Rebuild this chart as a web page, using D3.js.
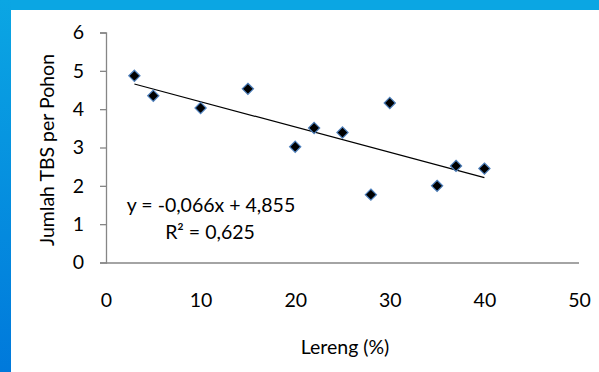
<!DOCTYPE html>
<html>
<head>
<meta charset="utf-8">
<script src="https://cdn.jsdelivr.net/npm/d3@7"></script>
<style>
  body { margin: 0; background: #fff; }
  svg { display: block; font-family: Lato, "Open Sans", sans-serif; }
</style>
</head>
<body>
<script>
// slope (%) and bunches per tree
var lereng = [3, 5, 10, 15, 20, 22, 25, 28, 30, 35, 37, 40];
var jumlahTBS = [4.87, 4.35, 4.03, 4.53, 3.02, 3.51, 3.39, 1.77, 4.16, 2.0, 2.52, 2.45];

var xTicks = [0, 10, 20, 30, 40, 50];
var yTicks = [0, 1, 2, 3, 4, 5, 6];

// trendline from the label
var slope = -0.066;
var intercept = 4.855;
var eqLabel = 'y = -0,066x + 4,855';
var r2Label = 'R² = 0,625';

var width = 599;
var height = 372;
var fontSize = '19.5px';

var x = d3.scaleLinear()
        .domain([0, 50])
        .range([106, 579]);
var y = d3.scaleLinear()
        .domain([0, 6])
        .range([262.5, 32.5]);

var svg = d3.select('body')
            .append('svg')
            .attr('width', width)
            .attr('height', height);

// blue frame on top and left
var grad = svg.append('defs')
              .append('linearGradient')
                .attr('id', 'side')
                .attr('x1', 0).attr('y1', 0)
                .attr('x2', 0).attr('y2', 1);
grad.append('stop').attr('offset', '0%').attr('stop-color', '#0ba6e3');
grad.append('stop').attr('offset', '100%').attr('stop-color', '#0079db');

svg.append('rect')
   .attr('x', 0).attr('y', 0)
   .attr('width', width).attr('height', 10)
   .attr('fill', '#0ba6e3');
svg.append('rect')
   .attr('x', 0).attr('y', 0)
   .attr('width', 11).attr('height', height)
   .attr('fill', 'url(#side)');

// y axis with ticks outside
var yAxis = d3.axisLeft(y)
              .tickValues(yTicks)
              .tickFormat(d3.format('d'))
              .tickSize(6)
              .tickPadding(16);
var gy = svg.append('g')
            .attr('transform', 'translate(' + x(0) + ',0)')
            .call(yAxis);

// x axis, no tick marks
var xAxis = d3.axisBottom(x)
              .tickValues(xTicks)
              .tickFormat(d3.format('d'))
              .tickSize(0)
              .tickSizeOuter(0)
              .tickPadding(31);
var gx = svg.append('g')
            .attr('transform', 'translate(0,' + y(0) + ')')
            .call(xAxis);

[gx, gy].forEach(function (g) {
  g.selectAll('path, line').attr('stroke', '#868686').attr('stroke-width', 1.3);
  g.selectAll('text')
   .attr('fill', '#000')
   .style('font-size', fontSize)
   .style('font-family', 'Lato, sans-serif');
});
gx.select('.domain').attr('d', 'M' + x(0) + ',0.5H' + x(50));

// trendline across the data range
var x0 = d3.min(lereng);
var x1 = d3.max(lereng);
svg.append('line')
   .attr('x1', x(x0)).attr('y1', y(slope * x0 + intercept))
   .attr('x2', x(x1)).attr('y2', y(slope * x1 + intercept))
   .attr('stroke', '#000')
   .attr('stroke-width', 1.2);

// diamond markers
var diamond = d3.symbol().type(d3.symbolDiamond2).size(80);
svg.selectAll('.pt')
   .data(lereng)
   .enter()
   .append('path')
     .attr('class', 'pt')
     .attr('d', diamond)
     .attr('transform', function (d, i) {
       return 'translate(' + x(d) + ',' + y(jumlahTBS[i]) + ')';
     })
     .attr('fill', '#000')
     .attr('stroke', '#4f81bd')
     .attr('stroke-width', 1.2);

// equation labels
svg.append('text')
   .attr('x', 211).attr('y', 212)
   .attr('text-anchor', 'middle')
   .style('font-size', fontSize)
   .text(eqLabel);
svg.append('text')
   .attr('x', 210).attr('y', 239)
   .attr('text-anchor', 'middle')
   .style('font-size', fontSize)
   .text(r2Label);

// axis titles
svg.append('text')
   .attr('text-anchor', 'middle')
   .attr('x', 345).attr('y', 354)
   .style('font-size', fontSize)
   .text('Lereng (%)');

svg.append('text')
   .attr('text-anchor', 'middle')
   .attr('transform', 'translate(54,150)rotate(-90)')
   .style('font-size', fontSize)
   .text('Jumlah TBS per Pohon');
</script>
</body>
</html>
